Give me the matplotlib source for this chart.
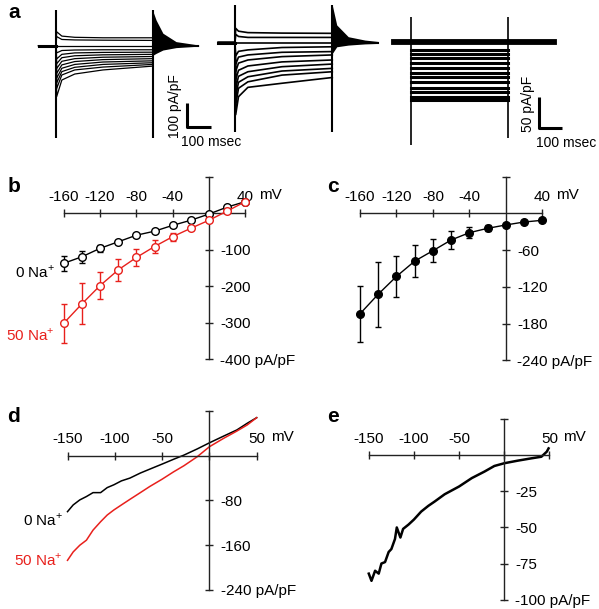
import numpy as np
import matplotlib
matplotlib.use("Agg")
import matplotlib.pyplot as plt

plt.rcParams['font.family'] = ['Liberation Sans', 'DejaVu Sans']
plt.rcParams['mathtext.fontset'] = 'custom'
plt.rcParams['mathtext.rm'] = 'Liberation Sans'

RED = '#e8201c'
AXC = '#222222'

# ---------- data ----------
# a: step currents (pA/pF) at times after pulse onset (ms)
g1_dt = [3, 25, 80, 200, 412]
g1_levels = [
    [58, 40, 35, 33, 33],
    [38, 26, 24, 23, 22],
    [0, 0, 0, 0, 0],
    [-30, -20, -18, -17, -17],
    [-55, -36, -30, -28, -27],
    [-75, -50, -42, -38, -36],
    [-95, -65, -54, -48, -45],
    [-115, -80, -66, -58, -54],
    [-135, -94, -78, -68, -63],
    [-155, -108, -90, -78, -71],
    [-178, -122, -101, -89, -78],
    [-212, -143, -118, -101, -85],
]
g1_tail_t = [0, 14, 43, 99, 195]
g1_tail_top = [145, 107, 52, 17, 3]
g1_tail_bot = [-40, -32, -18, -8, -2]

g2_dt = [3, 15, 55, 200, 414]
g2_levels = [
    [60, 48, 42, 40, 39],
    [35, 26, 22, 22, 22],
    [0, 0, 0, 0, 0],
    [-55, -36, -30, -20, -17],
    [-90, -60, -51, -40, -37],
    [-120, -85, -72, -58, -51],
    [-155, -115, -97, -80, -72],
    [-190, -140, -121, -100, -89],
    [-225, -165, -142, -118, -107],
    [-260, -190, -163, -135, -121],
    [-300, -225, -186, -169, -145],
]
g2_tail_t = [0, 19, 68, 139, 196]
g2_tail_top = [157, 74, 25, 11, 5]
g2_tail_bot = [-45, -17, -10, -5, -3]

g3_levels = [-13, -20, -27, -35, -43, -50, -57, -65, -74, -81, -89, -94]

# b: I-V, mean +/- sem
v_b = [-160, -140, -120, -100, -80, -60, -40, -20, 0, 20, 40]
b_zero = [-137, -119, -96, -78, -60, -49, -33, -19, -2, 17, 32]
b_zero_err = [20, 17, 10, 5, 4, 4, 4, 3, 3, 3, 3]
b_fifty = [-301, -248, -198, -155, -121, -91, -64, -41, -19, 6, 32]
b_fifty_err = [53, 56, 37, 30, 24, 17, 11, 5, 4, 3, 3]

# c: difference current
c_mean = [-164, -132, -103, -78, -61, -43.5, -31.6, -24.5, -19, -14.2, -11.4]
c_err = [46, 53, 33, 26, 19, 15, 9, 5, 3, 2, 2]

# d: ramp currents
d_v = [-150, -144, -137, -130, -123, -115, -108, -101, -93, -84, -73,
       -63, -50, -38, -27, -13, 0, 15, 29, 40, 50]
d_zero = [-100, -88, -79, -73, -66, -66, -57, -52, -45, -40, -31,
          -24, -15, -6.5, 1, 12, 23, 35, 46, 58, 68]
d_fifty = [-187, -172, -160, -151, -133, -118, -106, -97, -88, -78, -66,
           -55, -42, -29, -18, -2, 16, 31, 44, 55, 68]

# e: ramp difference current
e_v = [-150, -147, -143, -139, -136, -132, -128, -125, -121, -119, -115, -112,
       -106, -100, -92, -84, -77, -66, -50, -36, -22, -11, 0, 15, 30, 41, 47, 49]
e_i = [-82, -87, -80, -82, -75, -74, -67, -65, -58, -50, -57, -51,
       -48, -44.5, -39, -35, -32, -27, -21.6, -15.8, -11.3, -7.4, -5.5, -3.7,
       -2.1, -1, 2.5, 4.8]

# ---------- figure ----------
W, H = 599, 609
fig = plt.figure(figsize=(W / 100, H / 100), dpi=100)


def place(xlim, ylim, x0, sx, y0, sy):
    l = x0 + sx * xlim[0]
    r = x0 + sx * xlim[1]
    t = y0 - sy * ylim[1]
    b = y0 - sy * ylim[0]
    ax = fig.add_axes([l / W, 1 - b / H, (r - l) / W, (b - t) / H])
    ax.set_xlim(xlim)
    ax.set_ylim(ylim)
    ax.patch.set_alpha(0)
    return ax


def ftext(x, y, s, **kw):
    fig.text(x / W, 1 - y / H, s, **kw)


def cross_axes(ax, xr, yr, xticks, xlabels, yticks, ylabels, mv_at):
    ax.spines['left'].set_visible(False)
    ax.spines['bottom'].set_visible(False)
    ax.spines['top'].set_position(('data', 0))
    ax.spines['right'].set_position(('data', 0))
    ax.spines['top'].set_bounds(*xr)
    ax.spines['right'].set_bounds(*yr)
    for s in ['top', 'right']:
        ax.spines[s].set_color(AXC)
        ax.spines[s].set_linewidth(1.0)
    ax.xaxis.set_ticks_position('top')
    ax.yaxis.set_ticks_position('right')
    ax.set_xticks(xticks, xlabels)
    ax.set_yticks(yticks, ylabels)
    ax.tick_params(direction='inout', length=6, width=1, color=AXC, labelsize=11)
    ax.tick_params(axis='x', pad=4)
    ax.tick_params(axis='y', pad=5)
    ax.annotate('mV', xy=(mv_at, 0), xytext=(10, 10.5), textcoords='offset points',
                ha='left', va='baseline', fontsize=11)


def trace_group(ax, onset, offset, start, end, dt, levels, tail_t, tail_top, tail_bot, lw):
    for lev in levels:
        ts = [start, onset] + [onset + d for d in dt]
        ax.plot(ts, [0, 0] + lev, color='k', lw=lw)
    ax.plot([start, onset], [0, 0], color='k', lw=2.2)
    tt = [offset + t for t in tail_t]
    ax.fill_between(tt, tail_bot, tail_top, color='k', lw=0)
    ax.plot([offset, end], [0, 0], color='k', lw=1.5)


# ----- a -----
a1 = place((0, 889), (-435, 190), 36, 0.235, 45.7, 0.24)
trace_group(a1, 85, 497, 11, 690, g1_dt, g1_levels, g1_tail_t, g1_tail_top, g1_tail_bot, 0.9)
a1.vlines([85, 497], -385, 149, color='k', lw=1.5)
a1.plot([643, 643, 743], [-239, -339, -339], color='k', lw=2.2, solid_capstyle='butt')
a1.axis('off')

a2 = place((0, 740), (-435, 180), 215, 0.235, 42.7, 0.24)
trace_group(a2, 85, 499, 14, 695, g2_dt, g2_levels, g2_tail_t, g2_tail_top, g2_tail_bot, 1.2)
a2.vlines([85, 499], -371, 157, color='k', lw=1.5)
a2.axis('off')

a3 = place((0, 880), (-175, 67), 390.7, 0.235, 41.7, 0.62)
for lev in g3_levels:
    a3.plot([85, 498], [lev, lev], color='k', lw=2.2)
a3.plot([14, 695], [0, 0], color='k', lw=4.2)
a3.vlines([85], -167, 40, color='k', lw=1.2)
a3.vlines([498], -156, 40, color='k', lw=1.2)
a3.plot([631, 631, 731], [-89, -139, -139], color='k', lw=2.2, solid_capstyle='butt')
a3.axis('off')

ftext(175, 106, '100 pA/pF', rotation=90, ha='center', va='center', fontsize=10)
ftext(181, 142, '100 msec', ha='left', va='center', fontsize=10)
ftext(528, 104, '50 pA/pF', rotation=90, ha='center', va='center', fontsize=10)
ftext(536, 143, '100 msec', ha='left', va='center', fontsize=10)

# ----- b -----
ab = place((-175, 60), (-420, 110), 209, 0.9075, 213.3, 0.365)
cross_axes(ab, (-160, 40), (-400, 100), [-160, -120, -80, -40, 40],
           ['-160', '-120', '-80', '-40', '40'], [100, -100, -200, -300, -400],
           ['', '-100', '-200', '-300', '-400 pA/pF'], 40)
ab.errorbar(v_b, b_zero, yerr=b_zero_err, color='k', lw=1, capsize=2.5,
            marker='o', ms=5.5, mfc='white', mec='k', mew=1.0, zorder=3)
ab.errorbar(v_b, b_fifty, yerr=b_fifty_err, color=RED, lw=1, capsize=2.5,
            marker='o', ms=5.5, mfc='white', mec=RED, mew=1.0, zorder=3)
ftext(55, 272, '0 Na$^{+}$', ha='right', va='center', fontsize=11)
ftext(55, 335, '50 Na$^{+}$', ha='right', va='center', fontsize=11, color=RED)

# ----- c -----
ac = place((-175, 60), (-255, 65), 505.9, 0.912, 213.3, 0.613)
cross_axes(ac, (-160, 40), (-240, 60), [-160, -120, -80, -40, 40],
           ['-160', '-120', '-80', '-40', '40'], [60, -60, -120, -180, -240],
           ['', '-60', '-120', '-180', '-240 pA/pF'], 40)
ac.errorbar(v_b, c_mean, yerr=c_err, color='k', lw=1, capsize=2.5,
            marker='o', ms=5.5, mfc='k', mec='k', zorder=3)

# ----- d -----
ad = place((-160, 62), (-260, 90), 209.4, 0.946, 455.7, 0.5595)
cross_axes(ad, (-150, 50), (-240, 80), [-150, -100, -50, 0, 50],
           ['-150', '-100', '-50', '', '50'], [80, -80, -160, -240],
           ['', '-80', '-160', '-240 pA/pF'], 50)
ad.plot(d_v, d_zero, color='k', lw=1.1)
ad.plot(d_v, d_fifty, color=RED, lw=1.1)
ftext(63, 520, '0 Na$^{+}$', ha='right', va='center', fontsize=11)
ftext(63, 560, '50 Na$^{+}$', ha='right', va='center', fontsize=11, color=RED)

# ----- e -----
ae = place((-160, 62), (-108, 30), 504.3, 0.9035, 455.3, 1.443)
cross_axes(ae, (-150, 50), (-100, 25), [-150, -100, -50, 0, 50],
           ['-150', '-100', '-50', '', '50'], [25, -25, -50, -75, -100],
           ['', '-25', '-50', '-75', '-100 pA/pF'], 50)
ae.plot(e_v, e_i, color='k', lw=1.8)

# panel letters
for lab, x, y in [('a', 14, 12), ('b', 14, 187), ('c', 333, 186), ('d', 14, 417), ('e', 333, 417)]:
    ftext(x, y, lab, ha='center', va='center', fontsize=15, fontweight='bold')

fig.savefig('out.png', dpi=100)
